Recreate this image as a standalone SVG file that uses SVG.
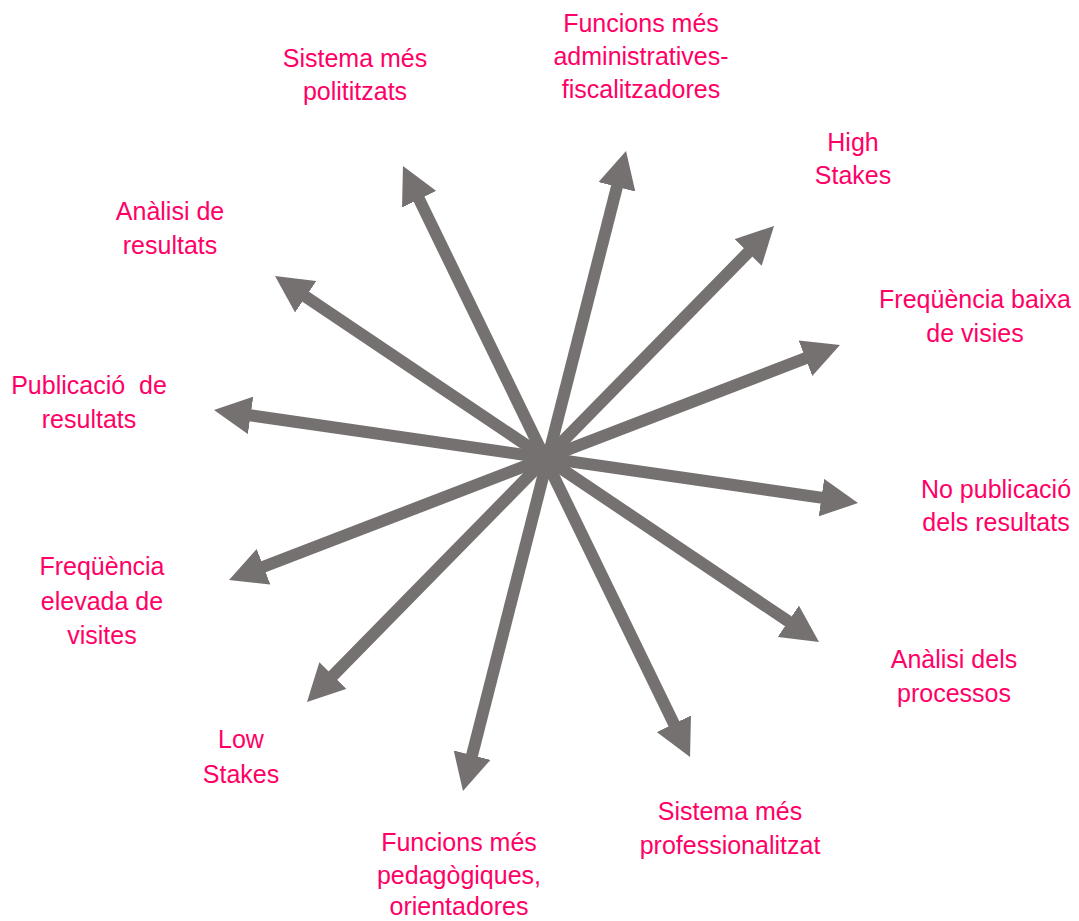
<svg xmlns="http://www.w3.org/2000/svg" width="1079" height="921" viewBox="0 0 1079 921">
<style>
.lbl{font-family:"Liberation Sans",Arial,sans-serif;font-size:25px;fill:#FF0066;text-anchor:middle}
.ar{stroke:#767171;stroke-width:12;fill:none;marker-start:url(#ah);marker-end:url(#ah)}
</style>
<defs>
<marker id="ah" markerUnits="userSpaceOnUse" viewBox="0 0 37 38" markerWidth="37" markerHeight="38" refX="17" refY="19" orient="auto-start-reverse">
<path d="M0,0 L37,19 L0,38 Z" fill="#767171"/>
</marker>
</defs>
<rect width="1079" height="921" fill="#ffffff"/>
<g id="connectors">
<line class="ar" x1="411.7" y1="184.0" x2="681.3" y2="739.0"/>
<line class="ar" x1="621.1" y1="170.4" x2="467.9" y2="771.6"/>
<line class="ar" x1="760.0" y1="240.3" x2="321.0" y2="687.7"/>
<line class="ar" x1="821.3" y1="352.2" x2="247.7" y2="572.8"/>
<line class="ar" x1="838.2" y1="500.1" x2="233.8" y2="412.9"/>
<line class="ar" x1="802.4" y1="630.8" x2="291.6" y2="287.2"/>
</g>
<g id="n-funcions-admin"><text class="lbl" x="641" y="32">Funcions més</text><text class="lbl" x="641" y="65">administratives-</text><text class="lbl" x="641" y="98">fiscalitzadores</text></g>
<g id="n-sistema-polititzats"><text class="lbl" x="355" y="67">Sistema més</text><text class="lbl" x="355" y="100">polititzats</text></g>
<g id="n-high-stakes"><text class="lbl" x="853" y="151">High</text><text class="lbl" x="853" y="184">Stakes</text></g>
<g id="n-analisi-resultats"><text class="lbl" x="170" y="220">Anàlisi de</text><text class="lbl" x="170" y="254">resultats</text></g>
<g id="n-freq-baixa"><text class="lbl" x="975" y="308">Freqüència baixa</text><text class="lbl" x="975" y="342">de visies</text></g>
<g id="n-publicacio"><text class="lbl" x="89" y="394" xml:space="preserve">Publicació  de</text><text class="lbl" x="89" y="428">resultats</text></g>
<g id="n-no-publicacio"><text class="lbl" x="996" y="498">No publicació</text><text class="lbl" x="996" y="531">dels resultats</text></g>
<g id="n-freq-elevada"><text class="lbl" x="102" y="575">Freqüència</text><text class="lbl" x="102" y="610">elevada de</text><text class="lbl" x="102" y="644">visites</text></g>
<g id="n-analisi-processos"><text class="lbl" x="954" y="668">Anàlisi dels</text><text class="lbl" x="954" y="702">processos</text></g>
<g id="n-low-stakes"><text class="lbl" x="241" y="748">Low</text><text class="lbl" x="241" y="783">Stakes</text></g>
<g id="n-sistema-professionalitzat"><text class="lbl" x="730" y="820">Sistema més</text><text class="lbl" x="730" y="854">professionalitzat</text></g>
<g id="n-funcions-pedagogiques"><text class="lbl" x="459" y="851">Funcions més</text><text class="lbl" x="459" y="884">pedagògiques,</text><text class="lbl" x="459" y="915">orientadores</text></g>
</svg>
